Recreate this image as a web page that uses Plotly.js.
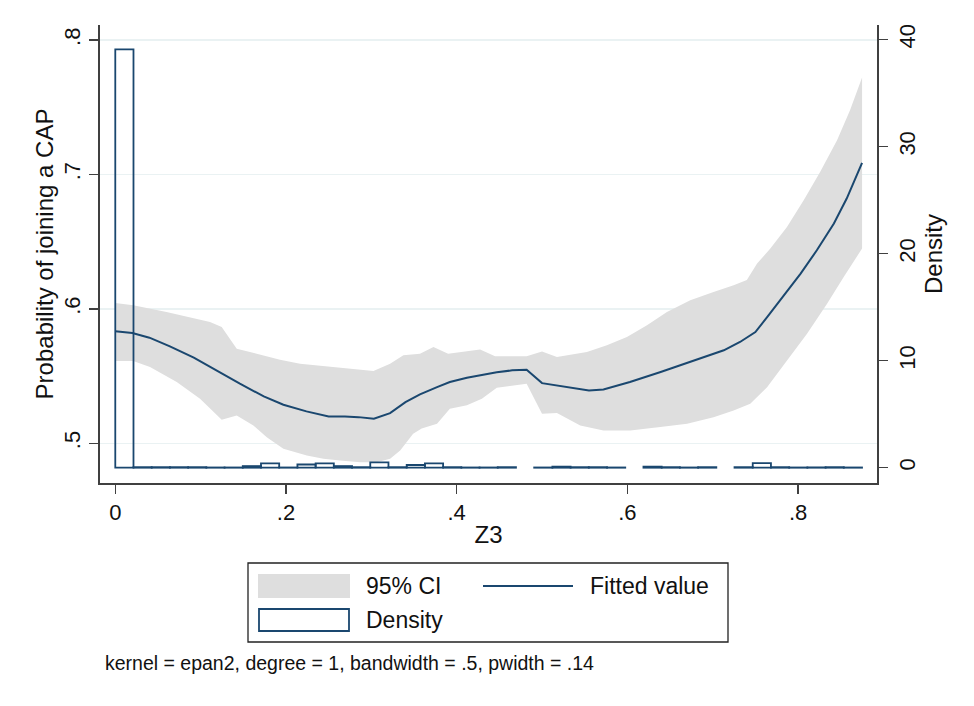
<!DOCTYPE html>
<html>
<head>
<meta charset="utf-8">
<script src="https://cdn.plot.ly/plotly-3.0.1.min.js"></script>
<style>html,body{margin:0;padding:0;background:#fff;}#chart{width:974px;height:706px;}</style>
</head>
<body>
<div id="chart"></div>
<script>
// ---- Data ----
const fitX = [0, 0.02, 0.04, 0.064, 0.092, 0.119, 0.146, 0.174, 0.197, 0.224, 0.25, 0.269, 0.285, 0.303, 0.322, 0.34, 0.357, 0.377, 0.392, 0.412, 0.432, 0.447, 0.465, 0.482, 0.5, 0.525, 0.555, 0.572, 0.603, 0.639, 0.678, 0.713, 0.732, 0.75, 0.764, 0.787, 0.803, 0.822, 0.842, 0.857, 0.875];
const fitY = [0.5833, 0.582, 0.5786, 0.5722, 0.5637, 0.5538, 0.5444, 0.5349, 0.5287, 0.5238, 0.52, 0.52, 0.5195, 0.5183, 0.5225, 0.5307, 0.5364, 0.5418, 0.5456, 0.5488, 0.5513, 0.5528, 0.5543, 0.5548, 0.5448, 0.5424, 0.5394, 0.54, 0.5456, 0.5531, 0.5617, 0.5692, 0.5754, 0.5828, 0.594, 0.6126, 0.6263, 0.6436, 0.6635, 0.6821, 0.7086];

const ciUpX = [0, 0.021, 0.06, 0.0915, 0.111, 0.1247, 0.1423, 0.1657, 0.193, 0.2165, 0.2478, 0.2673, 0.3025, 0.322, 0.3376, 0.357, 0.3728, 0.39, 0.408, 0.4275, 0.445, 0.482, 0.5, 0.5175, 0.5526, 0.576, 0.5995, 0.623, 0.6464, 0.6737, 0.701, 0.7245, 0.74, 0.752, 0.7675, 0.787, 0.8066, 0.826, 0.8457, 0.861, 0.875];
const ciUpY = [0.6044, 0.6027, 0.5977, 0.5928, 0.5903, 0.5865, 0.5704, 0.5667, 0.5622, 0.5593, 0.5573, 0.5556, 0.5538, 0.5593, 0.5655, 0.5667, 0.5716, 0.5667, 0.5684, 0.5699, 0.5647, 0.5647, 0.5684, 0.5642, 0.5679, 0.5729, 0.5791, 0.5878, 0.5977, 0.6064, 0.6126, 0.6176, 0.6215, 0.6337, 0.6449, 0.661, 0.6809, 0.702, 0.7255, 0.7479, 0.7722];

const ciLoX = [0, 0.021, 0.0407, 0.072, 0.0993, 0.1247, 0.1423, 0.1618, 0.1775, 0.197, 0.2244, 0.2439, 0.2634, 0.287, 0.3064, 0.322, 0.3338, 0.349, 0.359, 0.377, 0.392, 0.412, 0.4295, 0.447, 0.482, 0.5, 0.5175, 0.5448, 0.572, 0.6034, 0.6386, 0.67, 0.701, 0.7245, 0.744, 0.7637, 0.787, 0.8105, 0.834, 0.8535, 0.875];
const ciLoY = [0.5612, 0.5612, 0.5568, 0.5456, 0.5332, 0.5176, 0.5208, 0.5133, 0.5046, 0.496, 0.491, 0.4885, 0.4873, 0.486, 0.486, 0.4885, 0.4947, 0.5071, 0.511, 0.5146, 0.5258, 0.5283, 0.5332, 0.5414, 0.5444, 0.522, 0.5225, 0.5133, 0.5096, 0.5096, 0.5121, 0.5146, 0.5195, 0.5245, 0.5295, 0.5418, 0.5617, 0.5816, 0.6039, 0.6238, 0.6449];

const binStart = 0;
const binWidth = 0.02134;
const density = [39.1, 0.05, 0.05, 0.05, 0.05, 0.02, 0.02, 0.15, 0.4, 0.02, 0.3, 0.4, 0.15, 0.05, 0.5, 0.05, 0.25, 0.4, 0.05, 0.02, 0.02, 0.05, null, 0.02, 0.1, 0.05, 0.05, 0.02, null, 0.1, 0.05, 0.02, 0.05, null, 0.05, 0.42, 0.05, 0.02, 0.03, 0.05, 0.02];

const xTicks = [0, 0.2, 0.4, 0.6, 0.8];
const xTickText = ['0', '.2', '.4', '.6', '.8'];
const yTicks = [0.5, 0.6, 0.7, 0.8];
const yTickText = ['.5', '.6', '.7', '.8'];
const y2Ticks = [0, 10, 20, 30, 40];
const y2TickText = ['0', '10', '20', '30', '40'];

const legendLabels = ['95% CI', 'Fitted value', 'Density'];
const noteText = 'kernel = epan2, degree = 1, bandwidth = .5, pwidth = .14';

// ---- Styling ----
const NAVY = '#1a476f';
const CIGRAY = '#dedede';
const AXC = '#404040';
const FONT = 'Liberation Sans, Arial, Helvetica, sans-serif';

const binCenters = density.map((d, i) => binStart + binWidth * (i + 0.5));

const traces = [
  {
    type: 'scatter', mode: 'lines', name: legendLabels[0],
    x: ciUpX.concat(ciLoX.slice().reverse()),
    y: ciUpY.concat(ciLoY.slice().reverse()),
    fill: 'toself', fillcolor: CIGRAY, line: {width: 0, color: CIGRAY},
    hoverinfo: 'skip', showlegend: false, xaxis: 'x', yaxis: 'y'
  },
  {
    type: 'bar', name: legendLabels[2],
    x: binCenters, y: density, width: binWidth,
    marker: {color: 'rgba(0,0,0,0)', line: {color: NAVY, width: 1.8}},
    showlegend: false, xaxis: 'x', yaxis: 'y2'
  },
  {
    type: 'scatter', mode: 'lines', name: legendLabels[1],
    x: fitX, y: fitY, line: {color: NAVY, width: 2},
    showlegend: false, xaxis: 'x', yaxis: 'y'
  }
];

// plot area in pixels: left 100, right 877, top 25, bottom 483
const L = 100, R = 877, T = 25, B = 483;
const px = v => (v - L) / (R - L);
const py = v => (B - v) / (B - T);

const shapes = [
  {type: 'rect', xref: 'paper', yref: 'paper', x0: px(248), x1: px(728), y0: py(563), y1: py(642),
   line: {color: '#222', width: 1.3}, fillcolor: 'rgba(0,0,0,0)'},
  {type: 'rect', xref: 'paper', yref: 'paper', x0: px(258), x1: px(350), y0: py(574), y1: py(598),
   line: {width: 0}, fillcolor: CIGRAY},
  {type: 'line', xref: 'paper', yref: 'paper', x0: px(483), x1: px(573), y0: py(586), y1: py(586),
   line: {color: NAVY, width: 2}},
  {type: 'rect', xref: 'paper', yref: 'paper', x0: px(259), x1: px(349), y0: py(609), y1: py(631),
   line: {color: NAVY, width: 1.8}, fillcolor: 'rgba(0,0,0,0)'}
];

const annFont = {family: FONT, size: 23, color: '#111'};
const annotations = [
  {xref: 'paper', yref: 'paper', x: px(364), y: py(586), text: legendLabels[0], showarrow: false, xanchor: 'left', yanchor: 'middle', font: annFont},
  {xref: 'paper', yref: 'paper', x: px(588), y: py(586), text: legendLabels[1], showarrow: false, xanchor: 'left', yanchor: 'middle', font: annFont},
  {xref: 'paper', yref: 'paper', x: px(364), y: py(620), text: legendLabels[2], showarrow: false, xanchor: 'left', yanchor: 'middle', font: annFont},
  {xref: 'paper', yref: 'paper', x: px(103), y: py(663), text: noteText, showarrow: false, xanchor: 'left', yanchor: 'middle', font: {family: FONT, size: 19.5, color: '#111'}}
];

const layout = {
  width: 974, height: 706,
  margin: {l: L, r: 974 - R, t: T, b: 706 - B, pad: 0},
  paper_bgcolor: '#fff', plot_bgcolor: '#fff',
  font: {family: FONT, size: 22, color: '#111'},
  showlegend: false,
  bargap: 0,
  xaxis: {
    range: [-0.0179, 0.8925], tickvals: xTicks, ticktext: xTickText,
    showline: true, linecolor: AXC, linewidth: 1.8, mirror: false,
    ticks: 'outside', ticklen: 9, tickwidth: 1.5, tickcolor: AXC,
    ticklabelstandoff: 0,
    showgrid: false, zeroline: false,
    tickfont: {family: FONT, size: 22, color: '#111'},
    title: {text: 'Z3', font: {family: FONT, size: 24, color: '#111'}, standoff: 2}
  },
  yaxis: {
    range: [0.4705, 0.8112], tickvals: yTicks, ticktext: yTickText,
    showline: true, linecolor: AXC, linewidth: 1.8, mirror: false,
    ticks: 'outside', ticklen: 9, tickwidth: 1.5, tickcolor: AXC,
    tickangle: -90, ticklabelstandoff: 0,
    showgrid: true, gridcolor: '#eaf2f3', gridwidth: 1.5, zeroline: false,
    tickfont: {family: FONT, size: 22, color: '#111'},
    title: {text: 'Probability of joining a CAP', font: {family: FONT, size: 24, color: '#111'}, standoff: 0}
  },
  yaxis2: {
    overlaying: 'y', side: 'right',
    range: [-1.43, 41.37], tickvals: y2Ticks, ticktext: y2TickText,
    showline: true, linecolor: AXC, linewidth: 1.8, mirror: false,
    ticks: 'outside', ticklen: 9, tickwidth: 1.5, tickcolor: AXC,
    tickangle: -90, ticklabelstandoff: 1,
    showgrid: false, zeroline: false,
    tickfont: {family: FONT, size: 22, color: '#111'},
    title: {text: 'Density', font: {family: FONT, size: 24, color: '#111'}, standoff: 0}
  },
  shapes: shapes,
  annotations: annotations
};

Plotly.newPlot('chart', traces, layout, {displayModeBar: false, staticPlot: true});
</script>
</body>
</html>
